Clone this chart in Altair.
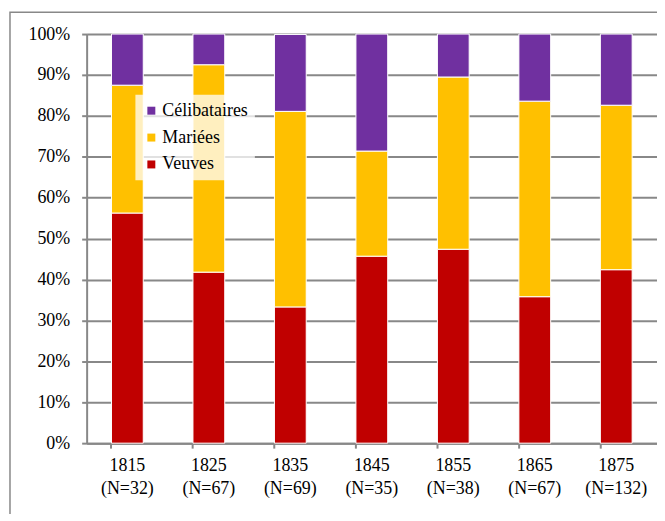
import altair as alt
import pandas as pd

years = ["1815", "1825", "1835", "1845", "1855", "1865", "1875"]
ns = [32, 67, 69, 35, 38, 67, 132]
veuves = [56.25, 41.8, 33.3, 45.7, 47.4, 35.8, 42.4]
mariees = [31.25, 50.7, 47.8, 25.7, 42.1, 47.8, 40.2]
celib = [12.5, 7.5, 18.8, 28.6, 10.5, 16.4, 17.4]

series = ["Célibataires", "Mariées", "Veuves"]
colors = ["#7030A0", "#FFC000", "#C00000"]
stack_order = {"Veuves": 0, "Mariées": 1, "Célibataires": 2}

rows = []
for y, n, v, m, c in zip(years, ns, veuves, mariees, celib):
    cat = f"{y} (N={n})"
    for s, val in (("Veuves", v), ("Mariées", m), ("Célibataires", c)):
        rows.append({"cat": cat, "serie": s, "val": val, "ord": stack_order[s]})
df = pd.DataFrame(rows)
cats = [f"{y} (N={n})" for y, n in zip(years, ns)]

FONT = "Liberation Serif"

bars = alt.Chart(df).mark_bar(stroke="white", strokeWidth=1).encode(
    x=alt.X("cat:N", sort=cats, title=None,
            scale=alt.Scale(paddingInner=0.61, paddingOuter=0.305),
            axis=alt.Axis(labelExpr="split(datum.label, ' ')", labelAngle=0,
                          bandPosition=0, ticks=True, tickSize=5,
                          labelPadding=8, labelLineHeight=24,
                          labelFontSize=18, labelFont=FONT, labelColor="#000",
                          domainColor="#888", domainWidth=2, tickColor="#888",
                          tickWidth=2, grid=False)),
    y=alt.Y("val:Q", stack="zero", title=None,
            scale=alt.Scale(domain=[0, 100], nice=False),
            axis=alt.Axis(values=list(range(0, 101, 10)),
                          labelExpr="datum.value + '%'",
                          tickSize=5, tickColor="#888", tickWidth=2,
                          labelPadding=12, labelFontSize=18, labelFont=FONT,
                          labelColor="#000", domainColor="#888", domainWidth=2,
                          grid=True, gridColor="#888", gridWidth=2)),
    color=alt.Color("serie:N",
                    scale=alt.Scale(domain=series, range=colors),
                    legend=alt.Legend(title=None, orient="none",
                                      legendX=49, legendY=61,
                                      symbolType="square", symbolSize=64,
                                      symbolStrokeWidth=0, labelOffset=2,
                                      labelFont=FONT, labelFontSize=18,
                                      labelColor="#000",
                                      rowPadding=9, padding=7,
                                      fillColor="rgba(255,255,255,0.75)")),
    order=alt.Order("ord:Q"),
)

frame = alt.Chart(pd.DataFrame({"a": [0]})).mark_rect(
    fill=None, stroke="#888", strokeWidth=1.5
).encode(x=alt.value(-77), x2=alt.value(700), y=alt.value(-22), y2=alt.value(600))

chart = alt.layer(frame, bars).properties(
    width=573, height=411,
    padding={"left": 79, "top": 25, "right": 0, "bottom": 70},
    autosize=alt.AutoSizeParams(type="none"),
).configure_view(stroke=None)

chart.save("out.html", embed_options={"renderer": "svg", "actions": False})
